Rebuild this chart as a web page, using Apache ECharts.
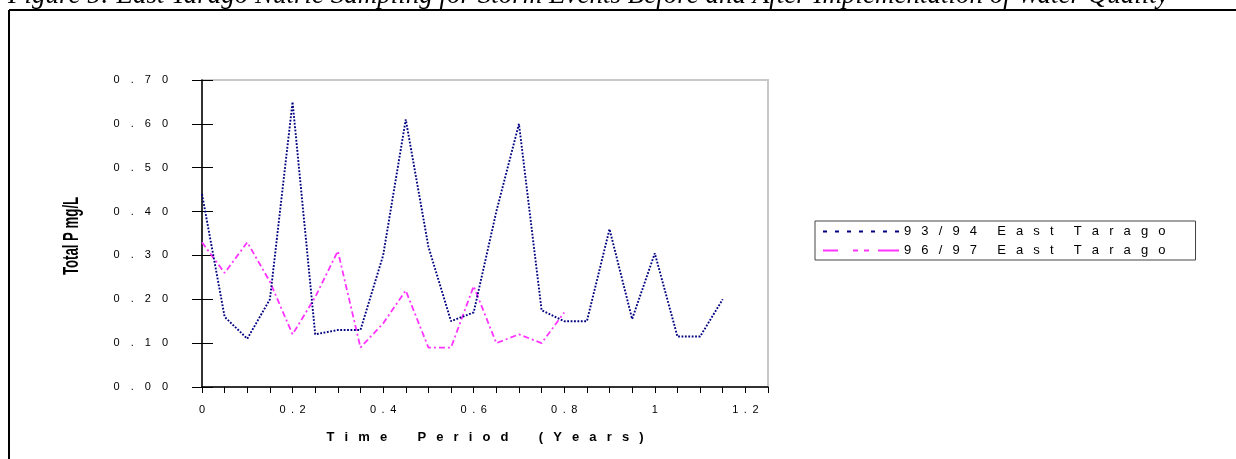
<!DOCTYPE html>
<html><head><meta charset="utf-8">
<script src="https://cdn.jsdelivr.net/npm/echarts@6/dist/echarts.min.js"></script>
<style>html,body{margin:0;padding:0;background:#fff}#c{width:1236px;height:459px}</style>
</head><body><div id="c"></div>
<script>
// ---- data ----
const seriesNames = ['93/94 East Tarago', '96/97 East Tarago'];
const timeBlue = [0, 0.05, 0.10, 0.15, 0.20, 0.25, 0.30, 0.35, 0.40, 0.45, 0.50, 0.55,
                  0.60, 0.65, 0.70, 0.75, 0.80, 0.85, 0.90, 0.95, 1.00, 1.05, 1.10, 1.15];
const tpBlue   = [0.44, 0.16, 0.11, 0.20, 0.65, 0.12, 0.13, 0.13, 0.30, 0.61, 0.32, 0.15,
                  0.17, 0.40, 0.60, 0.175, 0.15, 0.15, 0.36, 0.155, 0.305, 0.115, 0.115, 0.20];
const timePink = [0, 0.05, 0.10, 0.15, 0.20, 0.25, 0.30, 0.35, 0.40, 0.45, 0.50, 0.55,
                  0.60, 0.65, 0.70, 0.75, 0.80];
const tpPink   = [0.33, 0.26, 0.33, 0.24, 0.12, 0.205, 0.31, 0.09, 0.145, 0.22, 0.09, 0.09,
                  0.23, 0.10, 0.12, 0.10, 0.17];
const xTickLabels = ['0', '0.2', '0.4', '0.6', '0.8', '1', '1.2'];
const yTickLabels = ['0.00', '0.10', '0.20', '0.30', '0.40', '0.50', '0.60', '0.70'];
const titleText = 'Figure 5: East Tarago Nutrie Sampling for Storm Events Before and After Implementation of Water Quality';
const xAxisTitle = 'Time Period (Years)';
const yAxisTitle = 'Total P mg/L';

// ---- helpers ----
function spaced(s, sep, wordSep) {
  return s.split(' ').map(w => w.split('').join(sep)).join(wordSep);
}
function pairs(xs, ys) { return xs.map((x, i) => [x, ys[i]]); }

const FONT = 'Liberation Sans, Arial, sans-serif';
const blueIcon = 'path://M0 0h4v2h-4z M12 0h4v2h-4z M24 0h4v2h-4z M36 0h4v2h-4z M48 0h4v2h-4z M60 0h4v2h-4z M72 0h4v2h-4z';
const pinkIcon = 'path://M0 0h15v2h-15z M30 0h5v2h-5z M41 0h5v2h-5z M55 0h21v2h-21z';

const chart = echarts.init(document.getElementById('c'), null, {renderer: 'canvas'});
chart.setOption({
  animation: false,
  backgroundColor: '#fff',
  grid: {left: 202, top: 80, right: 468, bottom: 72, show: true,
         borderColor: '#c8c8c8', borderWidth: 2, backgroundColor: 'transparent'},
  legend: {
    orient: 'vertical', left: 815, top: 221,
    data: [{name: seriesNames[0], icon: blueIcon}, {name: seriesNames[1], icon: pinkIcon}],
    itemWidth: 76, itemHeight: 2, itemGap: 6,
    padding: [4, 30, 3, 8],
    borderColor: '#444', borderWidth: 1,
    selectedMode: false,
    textStyle: {fontSize: 13, color: '#000', fontFamily: FONT},
    formatter: n => spaced(n, '\u2002 ', '\u2002 \u2002 ')
  },
  xAxis: {
    type: 'value', min: 0, max: 1.25, interval: 0.05,
    axisLine: {lineStyle: {color: '#000', width: 1.5}},
    axisTick: {length: 6, lineStyle: {color: '#000', width: 1}},
    splitLine: {show: false},
    axisLabel: {
      margin: 17, fontSize: 11, color: '#000', fontFamily: FONT,
      formatter: v => {
        const k = Math.round(v / 0.2);
        if (Math.abs(v - k * 0.2) < 1e-6 && k < xTickLabels.length) return spaced(xTickLabels[k], '\u2002', '');
        return '';
      }
    },
    name: spaced(xAxisTitle, '\u2002 ', '\u2002 \u2002 \u2002 '),
    nameLocation: 'middle', nameGap: 50,
    nameTextStyle: {fontWeight: 'bold', fontSize: 13, color: '#000', fontFamily: FONT, verticalAlign: 'middle'}
  },
  yAxis: [
    {
      type: 'value', min: 0, max: 0.7, interval: 0.1,
      axisLine: {show: true, lineStyle: {color: '#000', width: 1.5}},
      axisTick: {show: true, length: 10, lineStyle: {color: '#000', width: 1}},
      splitLine: {show: false},
      axisLabel: {
        margin: 34, fontSize: 11, color: '#000', fontFamily: FONT,
        formatter: v => {
          const k = Math.round(v / 0.1);
          return k < yTickLabels.length ? spaced(yTickLabels[k], '\u2002\u2002', '') : '';
        }
      }
    },
    {
      type: 'value', min: 0, max: 0.7, interval: 0.1, position: 'left',
      axisLine: {show: false},
      axisTick: {show: true, inside: true, length: 11, lineStyle: {color: '#000', width: 1}},
      axisLabel: {show: false}, splitLine: {show: false}
    }
  ],
  series: [
    {
      name: seriesNames[0], type: 'line', yAxisIndex: 0,
      data: pairs(timeBlue, tpBlue), symbol: 'none', showSymbol: false,
      itemStyle: {color: '#000080'},
      lineStyle: {color: '#000080', width: 1.9, type: [1.8, 1.6]}, z: 3
    },
    {
      name: seriesNames[1], type: 'line', yAxisIndex: 0,
      data: pairs(timePink, tpPink), symbol: 'none', showSymbol: false,
      itemStyle: {color: '#ff33ff'},
      lineStyle: {color: '#ff33ff', width: 1.8, type: [6, 3, 2, 3]}, z: 2
    }
  ],
  graphic: [
    {type: 'text', left: 8, top: -18, silent: true,
     style: {text: titleText, font: 'italic 27px "Liberation Serif", "Times New Roman", serif', fill: '#000'}},
    {type: 'line', silent: true, shape: {x1: 9, y1: 10, x2: 1236, y2: 10}, style: {stroke: '#000', lineWidth: 2}},
    {type: 'line', silent: true, shape: {x1: 9, y1: 10, x2: 9, y2: 459}, style: {stroke: '#000', lineWidth: 2}},
    {type: 'text', x: 72, y: 236, rotation: Math.PI / 2, scaleX: 0.66, scaleY: 1.1, silent: true,
     style: {text: yAxisTitle, font: 'bold 20px "Liberation Sans", Arial, sans-serif', fill: '#000',
             textAlign: 'center', textVerticalAlign: 'middle', align: 'center', verticalAlign: 'middle'}}
  ]
});
</script></body></html>
